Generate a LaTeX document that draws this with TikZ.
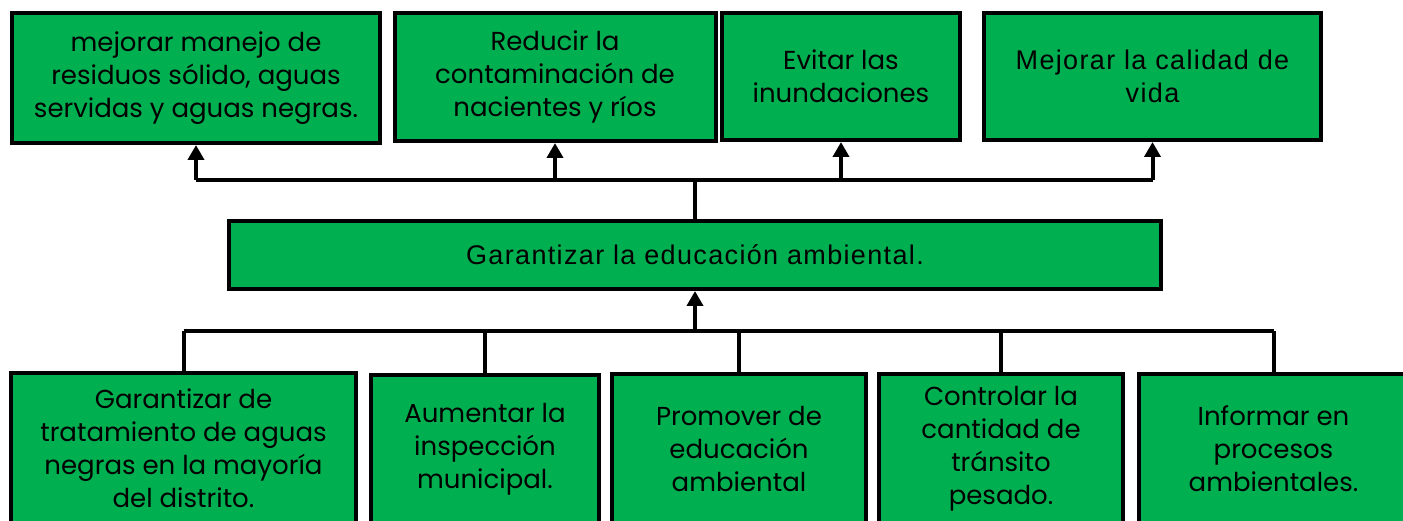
\documentclass[tikz,border=0pt]{standalone}
\usepackage{fontspec}
\setmainfont{Poppins}
\newfontfamily\arialfont[LetterSpace=5]{Liberation Sans}
\usetikzlibrary{arrows.meta}
\definecolor{cajaverde}{RGB}{0,176,80}

\begin{document}
\begin{tikzpicture}[x=1pt, y=-1pt,
      caja/.style={draw=black, line width=4pt, fill=cajaverde, align=center,
         inner sep=0pt, font=\fontsize{26}{33}\selectfont},
      cajaarial/.style={caja, font=\arialfont\fontsize{27}{33}\selectfont},
      linea/.style={draw=black, line width=4pt},
      flecha/.style={linea, -{Triangle[width=16pt, length=15pt]}}]
      \clip (0, 0) rectangle (1403, 521);
      % fines
      \node[caja, minimum width=368pt, minimum height=130pt] (fin1) at (196, 78)
         {mejorar manejo de\\residuos sólido, aguas\\servidas y aguas negras.};
      \node[caja, minimum width=321pt, minimum height=128pt] (fin2) at (555, 77)
         {Reducir la\\contaminación de\\nacientes y ríos};
      \node[caja, minimum width=238pt, minimum height=127pt] (fin3) at (841, 76.5)
         {Evitar las\\inundaciones};
      \node[cajaarial, minimum width=337pt, minimum height=127pt] (fin4) at (1152.5, 76.5)
         {Mejorar la calidad de\\vida};
      % objetivo
      \node[cajaarial, minimum width=932pt, minimum height=68pt] (obj) at (695, 255)
         {Garantizar la educación ambiental.};
      % medios
      \node[caja, minimum width=345pt, minimum height=150pt] (med1) at (183.5, 448)
         {Garantizar de\\tratamiento de aguas\\negras en la mayoría\\del distrito.};
      \node[caja, minimum width=228pt, minimum height=148pt] (med2) at (485, 449)
         {Aumentar la\\inspección\\municipal.};
      \node[caja, minimum width=254pt, minimum height=149pt] (med3) at (739, 448.5)
         {Promover de\\educación\\ambiental};
      \node[caja, minimum width=244pt, minimum height=149pt] (med4) at (1001, 448.5)
         {Controlar la\\cantidad de\\tránsito\\pesado.};
      \node[caja, minimum width=269pt, minimum height=149pt] (med5) at (1273.5, 448.5)
         {Informar en\\procesos\\ambientales.};
      \coordinate (arriba) at (695, 180);
      \coordinate (abajo) at (695, 331);
      % hacia los fines
      \draw[linea] (obj.north) -- (arriba);
      \draw[linea] (arriba -| fin1.south) -- (arriba -| fin4.south);
      \foreach \n in {fin1, fin2, fin3, fin4} {
         \draw[flecha] (arriba -| \n.south) -- (\n.south);
      }
      % desde los medios
      \draw[flecha] (abajo) -- (obj.south);
      \draw[linea] (abajo -| med1.north) -- (abajo -| med5.north);
      \foreach \n in {med1, med2, med3, med4, med5} {
         \draw[linea] (abajo -| \n.north) -- (\n.north);
      }
   \end{tikzpicture}
\end{document}
